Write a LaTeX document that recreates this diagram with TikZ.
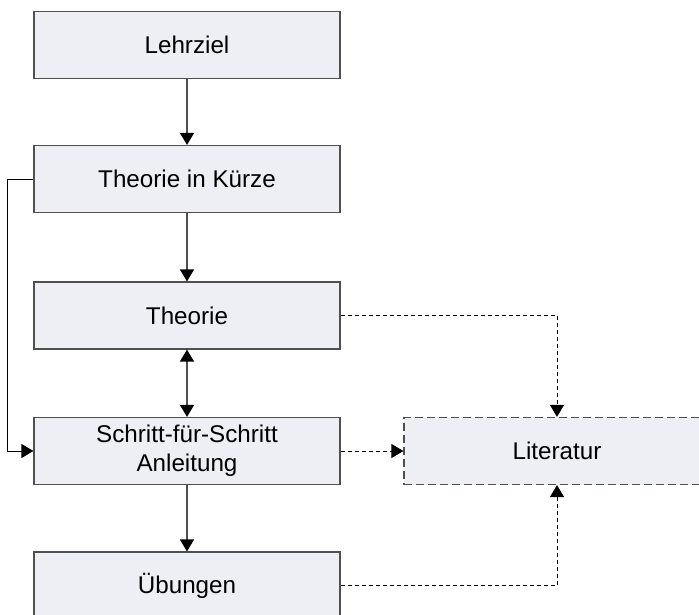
\documentclass[tikz,border=0pt]{standalone}
\usepackage{fontspec}
\setmainfont{Liberation Sans}
\usetikzlibrary{arrows.meta}

\definecolor{boxfill}{HTML}{EDEFF5}
\definecolor{boxline}{HTML}{4F4F4F}

\tikzset{
  tip/.tip={Triangle[width=14pt,length=12pt,color=black,fill=black]},
  block/.style={draw=boxline, fill=boxfill, line width=1.2pt, minimum width=306pt, minimum height=67pt, inner sep=0pt, align=center, font=\fontsize{24.2}{29}\selectfont},
  litblock/.style={block, dash pattern=on 8pt off 4pt},
  flow/.style={draw=boxline, line width=1.3pt, -tip},
  back/.style={draw=black, line width=0.9pt, -tip},
  ref/.style={draw=black, line width=0.9pt, dash pattern=on 4pt off 3pt, -tip}
}

\begin{document}
\begin{tikzpicture}[x=1pt, y=-1pt]

            \clip (0,0) rectangle (699,614);

            \node[block] (ziel) at (187,45) {Lehrziel};
            \node[block] (kurz) at (187,179) {Theorie in Kürze};
            \node[block] (theorie) at (187,315.5) {Theorie};
            \node[block] (schritt) at (187,451) {Schritt-für-Schritt\\Anleitung};
            \node[block] (uebung) at (187,585.5) {Übungen};
            \node[litblock] (lit) at (557,451) {Literatur};

            \draw[flow] (ziel) -- (kurz);
            \draw[flow] (kurz) -- (theorie);
            \draw[flow, tip-tip] (theorie) -- (schritt);
            \draw[flow] (schritt) -- (uebung);
            \draw[back] (kurz.west) -- ++(-26,0) |- (schritt.west);

            \draw[ref] (theorie.east) -| (lit.north);
            \draw[ref] (schritt.east) -- (lit.west);
            \draw[ref] (uebung.east) -| (lit.south);

        \end{tikzpicture}
\end{document}
